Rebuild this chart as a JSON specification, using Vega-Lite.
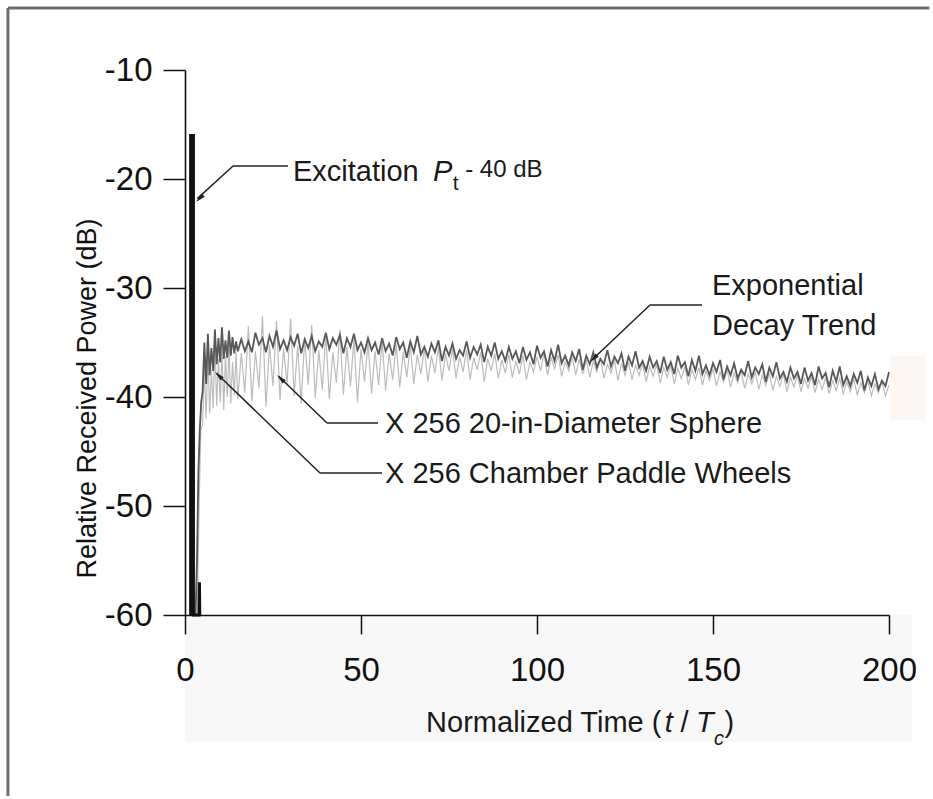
{
"$schema":"https://vega.github.io/schema/vega-lite/v6.json",
"autosize":{"type":"none"},
"padding":{"left":185,"top":70,"right":44,"bottom":184},
"width":704,"height":545,
"background":"white",
"data":{"values":[{}]},
"config":{"font":"Liberation Sans","view":{"stroke":null},
 "axis":{"grid":false,"domainColor":"#111","domainWidth":1.6,"tickColor":"#111","tickWidth":1.5,"labelColor":"#111","labelFont":"Liberation Sans","labelFontSize":33,"titleFont":"Liberation Sans","titleFontWeight":"normal","titleColor":"#111"}},
"datasets":{
"exc":[{"t":1.6,"p":-60},{"t":1.6,"p":-16},{"t":2.4,"p":-16},{"t":2.4,"p":-60},{"t":4.0,"p":-60},{"t":4.1,"p":-57},{"t":4.2,"p":-60}],
"dark":[{"t":3,"p":-60},{"t":3.4,"p":-55},{"t":3.8,"p":-47},{"t":4.2,"p":-43},{"t":4.6,"p":-40.5},{"t":5,"p":-39.5},{"t":5.5,"p":-35},{"t":6,"p":-38.8},{"t":6.5,"p":-34.2},{"t":7,"p":-38},{"t":7.5,"p":-35.5},{"t":8,"p":-37.6},{"t":8.5,"p":-33.8},{"t":9,"p":-37},{"t":9.5,"p":-34.6},{"t":10,"p":-36.8},{"t":10.5,"p":-33.6},{"t":11,"p":-36.5},{"t":11.5,"p":-34.8},{"t":12,"p":-36.4},{"t":12.5,"p":-33.9},{"t":13,"p":-36.2},{"t":13.5,"p":-34.5},{"t":14,"p":-36},{"t":14.5,"p":-34.9},{"t":15,"p":-35.8},
{"t":16,"p":-34.7},{"t":17,"p":-35.8},{"t":18,"p":-34.9},{"t":19,"p":-35.9},{"t":20,"p":-34.1},{"t":21,"p":-35.2},{"t":22,"p":-34.6},{"t":23,"p":-35.9},{"t":24,"p":-34.4},{"t":25,"p":-35.4},{"t":26,"p":-33.9},{"t":27,"p":-35.6},{"t":28,"p":-34.8},{"t":29,"p":-35.7},{"t":30,"p":-34.5},{"t":31,"p":-35.3},{"t":32,"p":-34.2},{"t":33,"p":-36.0},{"t":34,"p":-34.7},{"t":35,"p":-35.5},{"t":36,"p":-34.4},{"t":37,"p":-35.8},{"t":38,"p":-34.9},{"t":39,"p":-35.4},{"t":40,"p":-34.1},{"t":41,"p":-35.6},{"t":42,"p":-34.6},{"t":43,"p":-35.2},{"t":44,"p":-34.3},{"t":45,"p":-36.0},{"t":46,"p":-34.6},{"t":47,"p":-35.4},{"t":48,"p":-34.2},{"t":49,"p":-35.7},{"t":50,"p":-35.0},{"t":51,"p":-35.9},{"t":52,"p":-34.6},{"t":53,"p":-35.7},{"t":54,"p":-35.0},{"t":55,"p":-36.1},{"t":56,"p":-34.6},{"t":57,"p":-35.8},{"t":58,"p":-35.1},{"t":59,"p":-36.2},{"t":60,"p":-34.5},{"t":61,"p":-35.6},{"t":62,"p":-35.0},{"t":63,"p":-36.4},{"t":64,"p":-34.9},{"t":65,"p":-35.9},{"t":66,"p":-34.4},{"t":67,"p":-36.1},{"t":68,"p":-35.4},{"t":69,"p":-36.3},{"t":70,"p":-35.1},{"t":71,"p":-35.9},{"t":72,"p":-34.8},{"t":73,"p":-36.7},{"t":74,"p":-35.4},{"t":75,"p":-36.2},{"t":76,"p":-35.1},{"t":77,"p":-36.5},{"t":78,"p":-35.7},{"t":79,"p":-36.2},{"t":80,"p":-34.9},{"t":81,"p":-36.4},{"t":82,"p":-35.4},{"t":83,"p":-36.1},{"t":84,"p":-35.2},{"t":85,"p":-36.8},{"t":86,"p":-35.4},{"t":87,"p":-36.2},{"t":88,"p":-35.0},{"t":89,"p":-36.5},{"t":90,"p":-35.8},{"t":91,"p":-36.7},{"t":92,"p":-35.4},{"t":93,"p":-36.5},{"t":94,"p":-35.8},{"t":95,"p":-36.9},{"t":96,"p":-35.4},{"t":97,"p":-36.6},{"t":98,"p":-35.9},{"t":99,"p":-37.0},{"t":100,"p":-35.3},{"t":101,"p":-36.4},{"t":102,"p":-35.8},{"t":103,"p":-37.2},{"t":104,"p":-35.7},{"t":105,"p":-36.7},{"t":106,"p":-35.2},{"t":107,"p":-36.9},{"t":108,"p":-36.2},{"t":109,"p":-37.1},{"t":110,"p":-35.9},{"t":111,"p":-36.7},{"t":112,"p":-35.6},{"t":113,"p":-37.5},{"t":114,"p":-36.2},{"t":115,"p":-37.0},{"t":116,"p":-35.9},{"t":117,"p":-37.3},{"t":118,"p":-36.5},{"t":119,"p":-37.0},{"t":120,"p":-35.7},{"t":121,"p":-37.2},{"t":122,"p":-36.3},{"t":123,"p":-36.9},{"t":124,"p":-36.0},{"t":125,"p":-37.6},{"t":126,"p":-36.3},{"t":127,"p":-37.1},{"t":128,"p":-35.8},{"t":129,"p":-37.3},{"t":130,"p":-36.7},{"t":131,"p":-37.6},{"t":132,"p":-36.3},{"t":133,"p":-37.3},{"t":134,"p":-36.7},{"t":135,"p":-37.8},{"t":136,"p":-36.3},{"t":137,"p":-37.5},{"t":138,"p":-36.8},{"t":139,"p":-37.9},{"t":140,"p":-36.2},{"t":141,"p":-37.3},{"t":142,"p":-36.8},{"t":143,"p":-38.1},{"t":144,"p":-36.6},{"t":145,"p":-37.6},{"t":146,"p":-36.2},{"t":147,"p":-37.9},{"t":148,"p":-37.1},{"t":149,"p":-38.0},{"t":150,"p":-36.9},{"t":151,"p":-37.7},{"t":152,"p":-36.6},{"t":153,"p":-38.4},{"t":154,"p":-37.2},{"t":155,"p":-38.0},{"t":156,"p":-36.9},{"t":157,"p":-38.3},{"t":158,"p":-37.5},{"t":159,"p":-38.0},{"t":160,"p":-36.7},{"t":161,"p":-38.2},{"t":162,"p":-37.3},{"t":163,"p":-37.9},{"t":164,"p":-37.0},{"t":165,"p":-38.6},{"t":166,"p":-37.3},{"t":167,"p":-38.1},{"t":168,"p":-36.8},{"t":169,"p":-38.3},{"t":170,"p":-37.7},{"t":171,"p":-38.6},{"t":172,"p":-37.3},{"t":173,"p":-38.3},{"t":174,"p":-37.7},{"t":175,"p":-38.8},{"t":176,"p":-37.3},{"t":177,"p":-38.5},{"t":178,"p":-37.8},{"t":179,"p":-38.9},{"t":180,"p":-37.2},{"t":181,"p":-38.3},{"t":182,"p":-37.8},{"t":183,"p":-39.1},{"t":184,"p":-37.6},{"t":185,"p":-38.6},{"t":186,"p":-37.2},{"t":187,"p":-38.9},{"t":188,"p":-38.1},{"t":189,"p":-39.0},{"t":190,"p":-37.9},{"t":191,"p":-38.7},{"t":192,"p":-37.6},{"t":193,"p":-39.4},{"t":194,"p":-38.2},{"t":195,"p":-39.0},{"t":196,"p":-37.9},{"t":197,"p":-39.3},{"t":198,"p":-38.5},{"t":199,"p":-39.0},{"t":200,"p":-37.7}],
"light":[{"t":3.5,"p":-60},{"t":4,"p":-50},{"t":4.5,"p":-43},{"t":5,"p":-42.5},{"t":5.5,"p":-37},{"t":6,"p":-42},{"t":6.5,"p":-36},{"t":7,"p":-41.5},{"t":7.5,"p":-37.5},{"t":8,"p":-41},{"t":8.5,"p":-35},{"t":9,"p":-40.8},{"t":9.5,"p":-36.5},{"t":10,"p":-40.5},{"t":10.5,"p":-35.8},{"t":11,"p":-41.2},{"t":11.5,"p":-36.2},{"t":12,"p":-40},{"t":12.5,"p":-35.5},{"t":13,"p":-40.6},{"t":13.5,"p":-36.8},{"t":14,"p":-39.8},{"t":14.5,"p":-35.9},{"t":15,"p":-40.2},
{"t":16,"p":-36.0},{"t":17,"p":-39.6},{"t":18,"p":-33.5},{"t":19,"p":-40.4},{"t":20,"p":-35.8},{"t":21,"p":-39.2},{"t":22,"p":-32.6},{"t":23,"p":-40.9},{"t":24,"p":-35.2},{"t":25,"p":-39.0},{"t":26,"p":-33.0},{"t":27,"p":-40.3},{"t":28,"p":-35.6},{"t":29,"p":-38.8},{"t":30,"p":-32.8},{"t":31,"p":-39.9},{"t":32,"p":-35.3},{"t":33,"p":-40.6},{"t":34,"p":-34.6},{"t":35,"p":-38.9},{"t":36,"p":-33.4},{"t":37,"p":-40.1},{"t":38,"p":-35.7},{"t":39,"p":-39.3},{"t":40,"p":-34.2},{"t":41,"p":-40.2},{"t":42,"p":-35.9},{"t":43,"p":-38.7},{"t":44,"p":-33.8},{"t":45,"p":-39.8},{"t":46,"p":-35.4},{"t":47,"p":-39.0},{"t":48,"p":-34.7},{"t":49,"p":-40.5},{"t":50,"p":-35.6},{"t":51,"p":-38.6},{"t":52,"p":-35.0},{"t":53,"p":-39.7},{"t":54,"p":-35.8},{"t":55,"p":-38.9},{"t":56,"p":-34.9},{"t":57,"p":-39.4},{"t":58,"p":-36.0},{"t":59,"p":-38.4},{"t":60,"p":-35.2},{"t":61,"p":-39.1},{"t":62,"p":-35.9},{"t":63,"p":-38.2},{"t":64,"p":-35.3},{"t":65,"p":-38.8},{"t":66,"p":-36.1},{"t":67,"p":-37.9},{"t":68,"p":-35.5},{"t":69,"p":-38.6},{"t":70,"p":-36.2},{"t":71,"p":-37.8},{"t":72,"p":-35.4},{"t":73,"p":-38.5},{"t":74,"p":-36.0},{"t":75,"p":-37.6},{"t":76,"p":-35.6},{"t":77,"p":-38.3},{"t":78,"p":-36.3},{"t":79,"p":-37.7},{"t":80,"p":-35.7},{"t":81,"p":-38.4},{"t":82,"p":-36.4},{"t":83,"p":-37.5},{"t":84,"p":-35.9},{"t":85,"p":-38.6},{"t":86,"p":-36.5},{"t":87,"p":-37.6},{"t":88,"p":-36.0},{"t":89,"p":-38.3},{"t":90,"p":-36.6},{"t":91,"p":-37.8},{"t":92,"p":-36.1},{"t":93,"p":-38.2},{"t":94,"p":-36.7},{"t":95,"p":-37.9},{"t":96,"p":-36.2},{"t":97,"p":-38.4},{"t":98,"p":-36.8},{"t":99,"p":-37.7},{"t":100,"p":-36.3},{"t":101,"p":-37.6},{"t":102,"p":-36.0},{"t":103,"p":-38.0},{"t":104,"p":-36.4},{"t":105,"p":-37.4},{"t":106,"p":-36.1},{"t":107,"p":-38.1},{"t":108,"p":-36.8},{"t":109,"p":-37.6},{"t":110,"p":-36.3},{"t":111,"p":-38.0},{"t":112,"p":-36.5},{"t":113,"p":-37.9},{"t":114,"p":-36.6},{"t":115,"p":-38.2},{"t":116,"p":-36.7},{"t":117,"p":-37.7},{"t":118,"p":-36.4},{"t":119,"p":-38.3},{"t":120,"p":-37.0},{"t":121,"p":-37.8},{"t":122,"p":-36.6},{"t":123,"p":-38.5},{"t":124,"p":-36.9},{"t":125,"p":-38.0},{"t":126,"p":-36.8},{"t":127,"p":-38.4},{"t":128,"p":-37.1},{"t":129,"p":-38.0},{"t":130,"p":-36.9},{"t":131,"p":-38.6},{"t":132,"p":-37.2},{"t":133,"p":-38.1},{"t":134,"p":-37.0},{"t":135,"p":-38.7},{"t":136,"p":-37.3},{"t":137,"p":-38.2},{"t":138,"p":-37.1},{"t":139,"p":-38.8},{"t":140,"p":-37.4},{"t":141,"p":-38.3},{"t":142,"p":-37.2},{"t":143,"p":-38.9},{"t":144,"p":-37.5},{"t":145,"p":-38.4},{"t":146,"p":-37.3},{"t":147,"p":-38.9},{"t":148,"p":-37.6},{"t":149,"p":-38.5},{"t":150,"p":-37.4},{"t":151,"p":-39.0},{"t":152,"p":-37.7},{"t":153,"p":-38.6},{"t":154,"p":-37.5},{"t":155,"p":-39.1},{"t":156,"p":-37.8},{"t":157,"p":-38.7},{"t":158,"p":-37.6},{"t":159,"p":-39.2},{"t":160,"p":-37.9},{"t":161,"p":-38.8},{"t":162,"p":-37.7},{"t":163,"p":-39.3},{"t":164,"p":-38.0},{"t":165,"p":-38.9},{"t":166,"p":-37.8},{"t":167,"p":-39.4},{"t":168,"p":-38.1},{"t":169,"p":-39.0},{"t":170,"p":-37.9},{"t":171,"p":-39.5},{"t":172,"p":-38.2},{"t":173,"p":-39.1},{"t":174,"p":-38.0},{"t":175,"p":-39.5},{"t":176,"p":-38.3},{"t":177,"p":-39.2},{"t":178,"p":-38.1},{"t":179,"p":-39.6},{"t":180,"p":-38.4},{"t":181,"p":-39.3},{"t":182,"p":-38.2},{"t":183,"p":-39.7},{"t":184,"p":-38.5},{"t":185,"p":-39.4},{"t":186,"p":-38.3},{"t":187,"p":-39.7},{"t":188,"p":-38.6},{"t":189,"p":-39.5},{"t":190,"p":-38.4},{"t":191,"p":-39.8},{"t":192,"p":-38.7},{"t":193,"p":-39.6},{"t":194,"p":-38.5},{"t":195,"p":-39.9},{"t":196,"p":-38.8},{"t":197,"p":-39.6},{"t":198,"p":-38.6},{"t":199,"p":-39.9},{"t":200,"p":-38.9}]
},
"layer":[
{"mark":{"type":"rect","fill":"#f8f8f8"},"encoding":{"x":{"datum":0,"type":"quantitative","scale":{"domain":[0,200],"nice":false,"zero":false},"axis":{"zindex":2,"values":[0,50,100,150,200],"tickSize":19,"labelPadding":20,"labelFlush":false,"title":null}},"x2":{"datum":206.5},"y":{"datum":-60,"type":"quantitative","scale":{"domain":[-60,-10],"nice":false,"zero":false},"axis":{"zindex":2,"values":[-60,-50,-40,-30,-20,-10],"tickSize":22,"labelPadding":11,"labelExpr":"'' + datum.value","title":"Relative Received Power (dB)","titleFontSize":27,"titleX":-90,"titleY":328,"titleAngle":-90,"titleAlign":"center","titleBaseline":"alphabetic"}},"y2":{"datum":-71.65}}},
{"mark":{"type":"rect","fill":"#fdf7f3"},"encoding":{"x":{"datum":200.4},"x2":{"datum":210.2},"y":{"datum":-36.2},"y2":{"datum":-42.1}}},
{"mark":{"type":"rule","color":"#6e6e6e","strokeWidth":3},"encoding":{"x":{"datum":-50.3},"x2":{"datum":211.5},"y":{"datum":-4.31},"y2":{"datum":-4.31}}},
{"mark":{"type":"rule","color":"#6e6e6e","strokeWidth":3},"encoding":{"x":{"datum":-50.3},"x2":{"datum":-50.3},"y":{"datum":-4.31},"y2":{"datum":-76.6}}},
{"data":{"name":"light"},"mark":{"type":"line","color":"#bcbcbc","strokeWidth":1.2},"encoding":{"x":{"field":"t","type":"quantitative"},"y":{"field":"p","type":"quantitative"}}},
{"data":{"name":"dark"},"mark":{"type":"line","color":"#585858","strokeWidth":1.8},"encoding":{"x":{"field":"t","type":"quantitative"},"y":{"field":"p","type":"quantitative"}}},
{"data":{"name":"exc"},"mark":{"type":"line","color":"#111","strokeWidth":3},"encoding":{"x":{"field":"t","type":"quantitative"},"y":{"field":"p","type":"quantitative"}}},
{"mark":{"type":"rule","color":"#222","strokeWidth":1.5},"encoding":{"x":{"datum":29.26},"y":{"datum":-18.81},"x2":{"datum":13.64},"y2":{"datum":-18.81}}},
{"mark":{"type":"rule","color":"#222","strokeWidth":1.5},"encoding":{"x":{"datum":13.64},"y":{"datum":-18.81},"x2":{"datum":3.5},"y2":{"datum":-21.8}}},
{"mark":{"type":"rule","color":"#222","strokeWidth":1.5},"encoding":{"x":{"datum":54.83},"y":{"datum":-42.39},"x2":{"datum":40.34},"y2":{"datum":-42.39}}},
{"mark":{"type":"rule","color":"#222","strokeWidth":1.5},"encoding":{"x":{"datum":40.34},"y":{"datum":-42.39},"x2":{"datum":26.6},"y2":{"datum":-38.1}}},
{"mark":{"type":"rule","color":"#222","strokeWidth":1.5},"encoding":{"x":{"datum":55.97},"y":{"datum":-46.97},"x2":{"datum":38.35},"y2":{"datum":-46.97}}},
{"mark":{"type":"rule","color":"#222","strokeWidth":1.5},"encoding":{"x":{"datum":38.35},"y":{"datum":-46.97},"x2":{"datum":9.0},"y2":{"datum":-37.85}}},
{"mark":{"type":"rule","color":"#222","strokeWidth":1.5},"encoding":{"x":{"datum":146.88},"y":{"datum":-31.56},"x2":{"datum":132.1},"y2":{"datum":-31.56}}},
{"mark":{"type":"rule","color":"#222","strokeWidth":1.5},"encoding":{"x":{"datum":132.1},"y":{"datum":-31.56},"x2":{"datum":115.6},"y2":{"datum":-36.6}}},
{"mark":{"type":"point","shape":"M0,-1L0.45,1L-0.45,1Z","filled":true,"color":"#222","opacity":1,"size":100,"angle":225.8},"encoding":{"x":{"datum":4.15},"y":{"datum":-21.79}}},
{"mark":{"type":"point","shape":"M0,-1L0.45,1L-0.45,1Z","filled":true,"color":"#222","opacity":1,"size":100,"angle":313.8},"encoding":{"x":{"datum":27.16},"y":{"datum":-38.3}}},
{"mark":{"type":"point","shape":"M0,-1L0.45,1L-0.45,1Z","filled":true,"color":"#222","opacity":1,"size":100,"angle":313.9},"encoding":{"x":{"datum":9.55},"y":{"datum":-38.03}}},
{"mark":{"type":"point","shape":"M0,-1L0.45,1L-0.45,1Z","filled":true,"color":"#222","opacity":1,"size":100,"angle":226.5},"encoding":{"x":{"datum":116.08},"y":{"datum":-36.48}}},
{"mark":{"type":"text","align":"left","baseline":"alphabetic","fontSize":29,"color":"#1a1a1a"},"encoding":{"x":{"datum":30.68},"y":{"datum":-20.18},"text":{"value":"Excitation"}}},
{"mark":{"type":"text","align":"left","baseline":"alphabetic","fontSize":29,"fontStyle":"italic","color":"#1a1a1a"},"encoding":{"x":{"datum":70.45},"y":{"datum":-20.18},"text":{"value":"P"}}},
{"mark":{"type":"text","align":"left","baseline":"alphabetic","fontSize":21,"color":"#1a1a1a"},"encoding":{"x":{"datum":76.1},"y":{"datum":-21.01},"text":{"value":"t"}}},
{"mark":{"type":"text","align":"left","baseline":"alphabetic","fontSize":24,"color":"#1a1a1a"},"encoding":{"x":{"datum":79.6},"y":{"datum":-19.82},"text":{"value":"- 40 dB"}}},
{"mark":{"type":"text","align":"left","baseline":"alphabetic","fontSize":29,"color":"#1a1a1a"},"encoding":{"x":{"datum":149.72},"y":{"datum":-30.64},"text":{"value":"Exponential"}}},
{"mark":{"type":"text","align":"left","baseline":"alphabetic","fontSize":29,"color":"#1a1a1a"},"encoding":{"x":{"datum":149.72},"y":{"datum":-34.31},"text":{"value":"Decay Trend"}}},
{"mark":{"type":"text","align":"left","baseline":"alphabetic","fontSize":29,"color":"#1a1a1a"},"encoding":{"x":{"datum":56.82},"y":{"datum":-43.3},"text":{"value":"X 256 20-in-Diameter Sphere"}}},
{"mark":{"type":"text","align":"left","baseline":"alphabetic","fontSize":29,"color":"#1a1a1a"},"encoding":{"x":{"datum":56.82},"y":{"datum":-47.89},"text":{"value":"X 256 Chamber Paddle Wheels"}}},
{"mark":{"type":"text","align":"left","baseline":"alphabetic","fontSize":29,"color":"#1a1a1a"},"encoding":{"x":{"datum":68.5},"y":{"datum":-70.73},"text":{"value":"Normalized Time ("}}},
{"mark":{"type":"text","align":"left","baseline":"alphabetic","fontSize":29,"fontStyle":"italic","color":"#1a1a1a"},"encoding":{"x":{"datum":136.3},"y":{"datum":-70.73},"text":{"value":"t"}}},
{"mark":{"type":"text","align":"left","baseline":"alphabetic","fontSize":29,"color":"#1a1a1a"},"encoding":{"x":{"datum":140.8},"y":{"datum":-70.73},"text":{"value":"/"}}},
{"mark":{"type":"text","align":"left","baseline":"alphabetic","fontSize":29,"fontStyle":"italic","color":"#1a1a1a"},"encoding":{"x":{"datum":145.2},"y":{"datum":-70.73},"text":{"value":"T"}}},
{"mark":{"type":"text","align":"left","baseline":"alphabetic","fontSize":20,"fontStyle":"italic","color":"#1a1a1a"},"encoding":{"x":{"datum":150.3},"y":{"datum":-71.93},"text":{"value":"c"}}},
{"mark":{"type":"text","align":"left","baseline":"alphabetic","fontSize":29,"color":"#1a1a1a"},"encoding":{"x":{"datum":153.3},"y":{"datum":-70.73},"text":{"value":")"}}}
]
}
